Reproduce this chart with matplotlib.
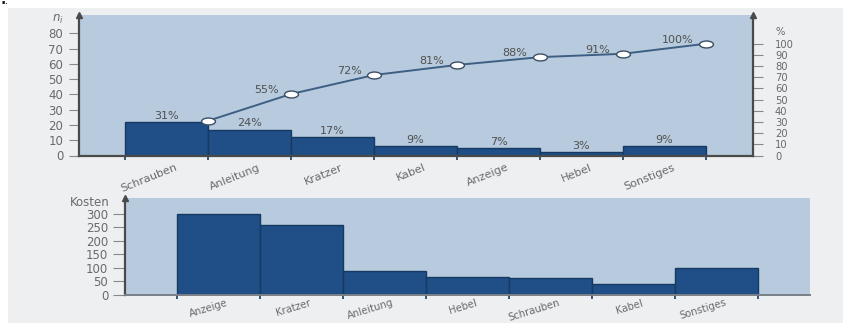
import numpy as np
import matplotlib
matplotlib.use("Agg")
import matplotlib.pyplot as plt
from matplotlib.path import Path
from matplotlib.patches import Rectangle
from matplotlib.transforms import Affine2D

# Pareto analysis of defects (counts) and of defect costs
defect_types = ["Schrauben", "Anleitung", "Kratzer", "Kabel", "Anzeige", "Hebel", "Sonstiges"]
defect_counts = [22, 17, 12, 6, 5, 2, 6]
share_pct = [31, 24, 17, 9, 7, 3, 9]
cumulative_pct = [31, 55, 72, 81, 88, 91, 100]

cost_types = ["Anzeige", "Kratzer", "Anleitung", "Hebel", "Schrauben", "Kabel", "Sonstiges"]
cost_values = [300, 260, 87, 65, 62, 40, 100]

count_ticks = [0, 10, 20, 30, 40, 50, 60, 70, 80]
pct_ticks = [0, 10, 20, 30, 40, 50, 60, 70, 80, 90, 100]
cost_ticks = [0, 50, 100, 150, 200, 250, 300]

W, H = 843, 323
BAR = "#1f4f86"
BAR_EDGE = "#163a62"
PANEL = "#b8cbde"
AXIS = "#4a4a4a"
TXT = "#6a6a6a"
LINE = "#3d5f83"

fig = plt.figure(figsize=(W / 100, H / 100), dpi=100)
fig.patch.set_facecolor("white")
fig.patches.append(Rectangle((8 / W, 0), 1, 1 - 8 / H, transform=fig.transFigure,
                             facecolor="#eeeff1", edgecolor="none", zorder=-10))


def px_axes(x0, y0, x1, y1):
    return fig.add_axes([x0 / W, 1 - y1 / H, (x1 - x0) / W, (y1 - y0) / H])


def style_xaxis(ax, labels, n, size, rot, pad):
    ax.set_xticks(np.arange(n) + 0.6)
    ax.set_xticklabels(labels, rotation=rot, ha="right", rotation_mode="anchor",
                       fontsize=size, color=TXT)
    ax.tick_params(axis="x", which="major", length=0, pad=pad)
    ax.set_xticks(np.arange(n + 1), minor=True)
    ax.tick_params(axis="x", which="minor", length=3, width=1.2, color=BAR_EDGE,
                   direction="out")


# ---------- upper panel: defect counts with cumulative share ----------
ax1 = px_axes(78.5, 15, 752.7, 155.5)
ax1.set_facecolor(PANEL)
x = np.arange(len(defect_types))
ax1.bar(x, defect_counts, width=1, align="edge", color=BAR, edgecolor=BAR_EDGE,
        linewidth=1.0, zorder=2)
ax1.set_xlim(-0.56, 7.563)
ax1.set_ylim(0, 92.1)
ax1.set_yticks(count_ticks)
ax1.tick_params(axis="y", length=7, width=0.8, color="#888888", labelsize=8.5,
                labelcolor=TXT, pad=4)
style_xaxis(ax1, defect_types, len(defect_types), 8, 22, 5)
for s in ("top", "right"):
    ax1.spines[s].set_visible(False)
for s in ("left", "bottom"):
    ax1.spines[s].set_color(AXIS)
    ax1.spines[s].set_linewidth(1.6)

for xi, c, p in zip(x, defect_counts, share_pct):
    ax1.text(xi + 0.5, c + 0.8, f"{p}%", ha="center", va="bottom",
             fontsize=8, color="#505050", zorder=3)

ax2 = ax1.twinx()
ax2.set_ylim(0, 125.7)
ax2.set_yticks(pct_ticks)
ax2.tick_params(axis="y", length=7, width=0.8, color="#888888", labelsize=7.2,
                labelcolor=TXT, pad=9)
for s in ("top", "left", "bottom"):
    ax2.spines[s].set_visible(False)
ax2.spines["right"].set_color(AXIS)
ax2.spines["right"].set_linewidth(1.6)

ellipse = Path.unit_circle().transformed(Affine2D().scale(1.0, 0.5))
ax2.plot(x + 1, cumulative_pct, color=LINE, linewidth=1.4, marker=ellipse,
         markersize=10, markerfacecolor="white", markeredgecolor="#3a4e66",
         markeredgewidth=1.0, zorder=4, clip_on=False)
for xi, v in zip(x[1:], cumulative_pct[1:]):
    ax2.annotate(f"{v}%", (xi + 1, v), xytext=(-9, 3), textcoords="offset points",
                 ha="right", va="center", fontsize=8, color="#505050")

ax1.plot([0], [1], marker="^", markersize=5, color=AXIS, transform=ax1.transAxes,
         clip_on=False)
ax2.plot([1], [1], marker="^", markersize=5, color=AXIS, transform=ax2.transAxes,
         clip_on=False)
fig.text(64 / W, 1 - 19 / H, "$n_i$", ha="right", va="center", fontsize=8.5, color=TXT)
fig.text(775 / W, 1 - 32 / H, "%", ha="left", va="center", fontsize=7.2, color=TXT)

# ---------- lower panel: costs per defect type ----------
ax3 = px_axes(125, 198, 810, 295)
ax3.set_facecolor(PANEL)
x3 = np.arange(len(cost_types))
ax3.bar(x3, cost_values, width=1, align="edge", color=BAR, edgecolor=BAR_EDGE,
        linewidth=1.0, zorder=2)
ax3.set_xlim(-0.623, 7.63)
ax3.set_ylim(0, 359)
ax3.set_yticks(cost_ticks)
ax3.tick_params(axis="y", length=9, width=0.8, color="#888888", labelsize=8.5,
                labelcolor=TXT, pad=3)
style_xaxis(ax3, cost_types, len(cost_types), 7.2, 17, 2)
for s in ("top", "right"):
    ax3.spines[s].set_visible(False)
ax3.spines["left"].set_color(AXIS)
ax3.spines["left"].set_linewidth(1.6)
ax3.spines["bottom"].set_color("#7a7f86")
ax3.spines["bottom"].set_linewidth(1.4)
ax3.plot([0], [1], marker="^", markersize=5, color=AXIS, transform=ax3.transAxes,
         clip_on=False)
fig.text(110 / W, 1 - 203 / H, "Kosten", ha="right", va="center", fontsize=8.5,
         color=TXT)

fig.text(0.002, 0.999, "ıı.", ha="left", va="top", fontsize=4.5, weight="bold",
         color="black")

fig.savefig("out.png", dpi=100, facecolor=fig.get_facecolor())
